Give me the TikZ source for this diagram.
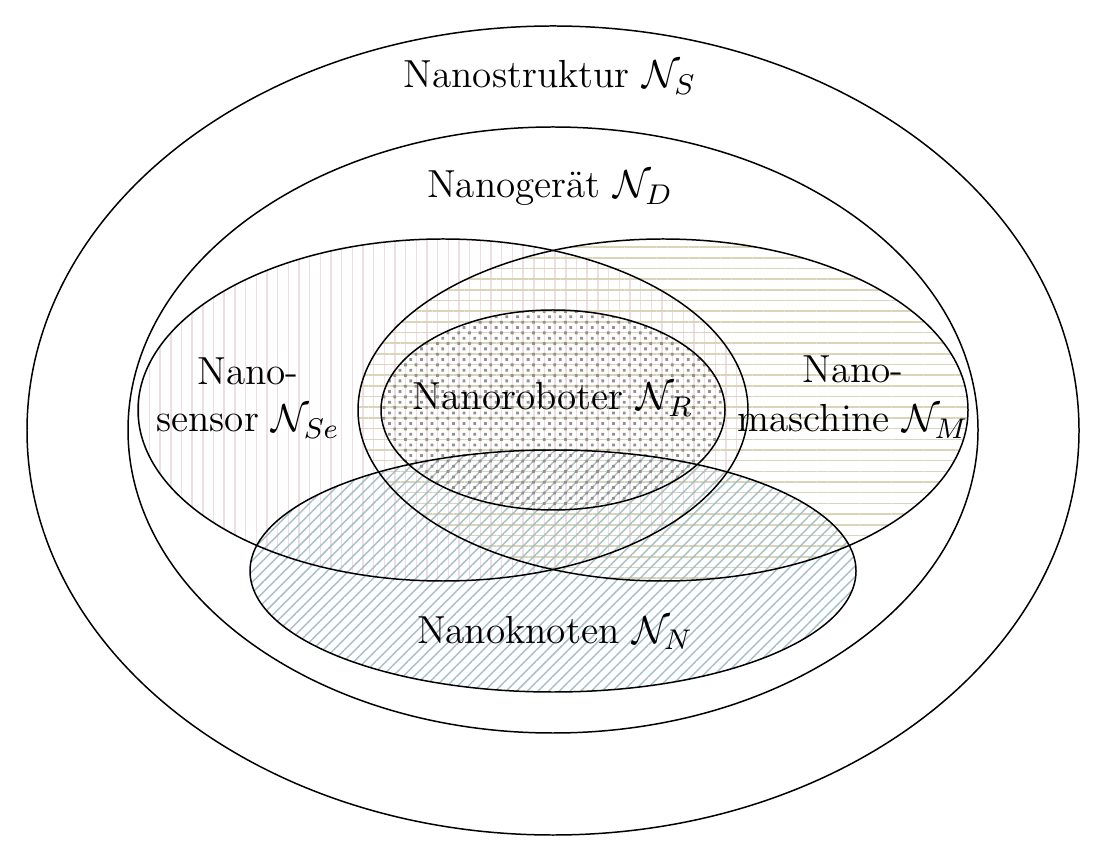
\documentclass[tikz,border=0pt]{standalone}
\usetikzlibrary{patterns.meta}
\definecolor{sensorcol}{RGB}{236,222,227}
\definecolor{machinecol}{RGB}{218,212,184}
\definecolor{nodecol}{RGB}{165,192,198}
\definecolor{dotcol}{RGB}{145,145,145}
\tikzset{
  setline/.style={draw=black, line width=0.42pt},
  lbl/.style={inner sep=0pt, anchor=base, font=\fontsize{11}{13.6}\selectfont},
}
\begin{document}
\begin{tikzpicture}[x=0.281pt, y=-0.281pt]
\useasboundingbox (0,0) rectangle (1100,845);
% pattern fills
\fill[pattern={Lines[angle=90, distance=3pt, line width=0.4pt]}, pattern color=sensorcol] (443,410) ellipse [x radius=305, y radius=171];
\fill[pattern={Lines[angle=0, distance=3pt, line width=0.45pt]}, pattern color=machinecol] (663,410) ellipse [x radius=305, y radius=171];
\fill[pattern={Lines[angle=45, distance=2.12pt, line width=0.4pt]}, pattern color=nodecol] (553,571) ellipse [x radius=303, y radius=121];
\fill[pattern={Dots[angle=45, distance=2.12pt, radius=0.55pt]}, pattern color=dotcol] (553,410) ellipse [x radius=172, y radius=100];
% outlines
\draw[setline] (553,430.5) ellipse [x radius=526, y radius=404.5];
\draw[setline] (553,430) ellipse [x radius=425, y radius=303];
\draw[setline] (443,410) ellipse [x radius=305, y radius=171];
\draw[setline] (663,410) ellipse [x radius=305, y radius=171];
\draw[setline] (553,410) ellipse [x radius=172, y radius=100];
\draw[setline] (553,571) ellipse [x radius=303, y radius=121];
% labels
\node[lbl] (struktur) at (550,88) {Nanostruktur $\mathcal{N}_S$};
\node[lbl] (geraet) at (550,198) {Nanoger\"at $\mathcal{N}_D$};
\node[lbl] (sensorA) at (248,385) {Nano-};
\node[lbl] (sensorB) at (248,432) {sensor $\mathcal{N}_{Se}$};
\node[lbl] (roboter) at (553,410) {Nanoroboter $\mathcal{N}_R$};
\node[lbl] (maschA) at (853,383) {Nano-};
\node[lbl] (maschB) at (853,432) {maschine $\mathcal{N}_M$};
\node[lbl] (knoten) at (555,643) {Nanoknoten $\mathcal{N}_N$};
\end{tikzpicture}
\end{document}
